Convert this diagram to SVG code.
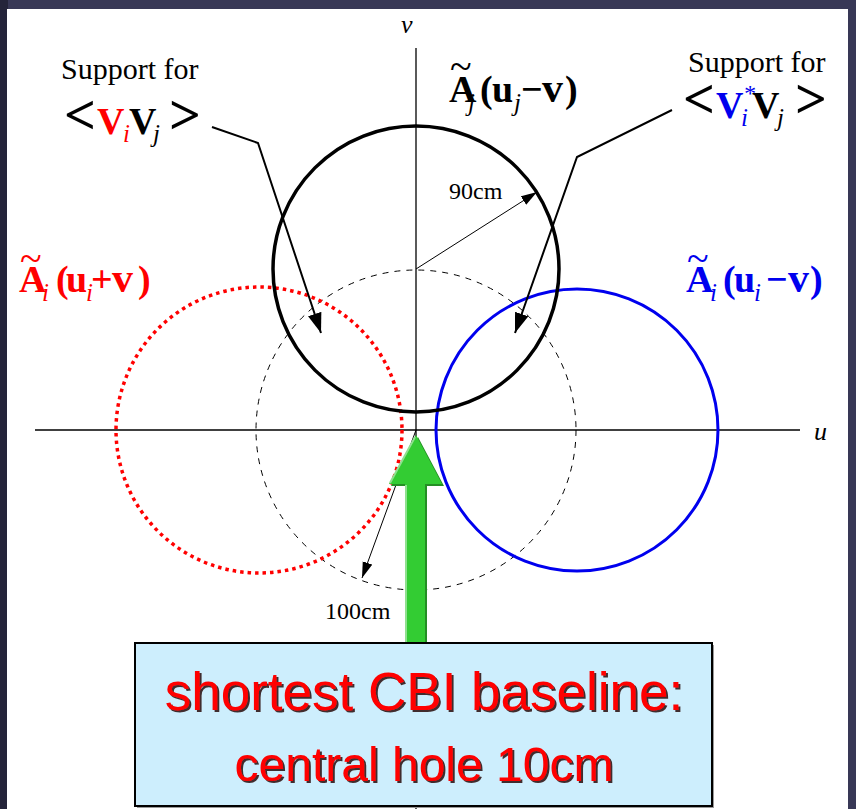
<svg xmlns="http://www.w3.org/2000/svg" width="856" height="809" viewBox="0 0 856 809">
  <style>
    .serif { font-family: "Liberation Serif", "Times New Roman", serif; }
    .b { font-weight: bold; }
    .it { font-style: italic; font-weight: normal; }
    .tilde { font-weight: normal; font-size: 40px; }
    .axis { stroke: #000; stroke-width: 1.3; fill: none; }
    .conn { stroke: #000; stroke-width: 2; fill: none; }
    .thin { stroke: #000; stroke-width: 1; fill: none; }
    .boxtext { fill: #ff0000; font-family: "Liberation Sans", Arial, sans-serif; text-anchor: middle; filter: url(#txtShadow); }
  </style>
  <defs>
    <marker id="bigHead" markerUnits="userSpaceOnUse" markerWidth="22" markerHeight="16" refX="20" refY="7" orient="auto">
      <path d="M0,0 L20,7 L0,14 z" fill="#000"/>
    </marker>
    <marker id="smallHead" markerUnits="userSpaceOnUse" markerWidth="18" markerHeight="12" refX="16" refY="5" orient="auto">
      <path d="M0,0 L16,5 L0,10 z" fill="#000"/>
    </marker>
    <filter id="txtShadow" x="-5%" y="-20%" width="110%" height="140%">
      <feDropShadow dx="2" dy="2" stdDeviation="0.3" flood-color="#301818" flood-opacity="0.9"/>
    </filter>
  </defs>

  <!-- frame -->
  <rect x="0" y="0" width="856" height="809" fill="#383856"/>
  <rect x="0" y="0" width="8" height="809" fill="#24243a"/>
  <rect x="7" y="9" width="841" height="800" fill="#ffffff"/>

  <!-- axes -->
  <g id="axes">
    <line class="axis" x1="35" y1="430" x2="800" y2="430"/>
    <line class="axis" x1="416" y1="48" x2="416" y2="809"/>
    <text class="serif" x="401" y="33" font-size="26" font-style="italic">v</text>
    <text class="serif" x="814" y="440" font-size="26" font-style="italic">u</text>
  </g>

  <!-- circles -->
  <g id="dish-circle">
    <circle cx="416" cy="430" r="160" fill="none" stroke="#000" stroke-width="1" stroke-dasharray="6,6"/>
  </g>
  <g id="circle-Ai-plus">
    <circle cx="259" cy="430" r="143" fill="none" stroke="#ff0000" stroke-width="3.5" stroke-dasharray="3.5,4"/>
  </g>
  <g id="circle-Ai-minus">
    <circle cx="577" cy="430" r="141" fill="none" stroke="#0000ee" stroke-width="3"/>
  </g>
  <g id="circle-Aj">
    <circle cx="416" cy="269" r="143" fill="none" stroke="#000" stroke-width="3.5"/>
  </g>

  <!-- connectors -->
  <g id="connectors">
    <polyline class="conn" points="212,127 258,143 321,333" marker-end="url(#bigHead)"/>
    <polyline class="conn" points="672,110 577,157 515,333" marker-end="url(#bigHead)"/>
    <line class="thin" x1="416" y1="269" x2="537" y2="192" marker-end="url(#smallHead)"/>
    <line class="thin" x1="416" y1="430" x2="362" y2="578" marker-end="url(#smallHead)"/>
  </g>

  <!-- labels -->
  <g id="label-support-left" class="serif">
    <text x="61" y="79" font-size="30">Support for</text>
    <text y="134" class="b" font-size="38">
      <tspan x="64" font-size="56">&lt;</tspan><tspan x="97" fill="#ff0000">V</tspan><tspan x="123" y="142" class="it" font-size="25" fill="#ff0000">i</tspan><tspan x="129" y="134">V</tspan><tspan x="153" y="142" class="it" font-size="25">j</tspan><tspan x="169" y="134" font-size="56">&gt;</tspan>
    </text>
  </g>

  <g id="label-support-right" class="serif">
    <text x="688" y="72" font-size="30">Support for</text>
    <text y="118" class="b" font-size="38">
      <tspan x="683" font-size="56">&lt;</tspan><tspan x="716" fill="#0000ee">V</tspan><tspan x="741" y="126" class="it" font-size="25" fill="#0000ee">i</tspan><tspan x="743" y="101" class="it" font-size="24" fill="#0000ee">*</tspan><tspan x="752" y="118">V</tspan><tspan x="777" y="126" class="it" font-size="25">j</tspan><tspan x="795" y="118" font-size="56">&gt;</tspan>
    </text>
  </g>

  <g id="label-Aj" class="serif">
    <text x="450" y="80" class="tilde">~</text>
    <text y="102" class="b" font-size="38">
      <tspan x="449">A</tspan><tspan x="468" y="111" class="it" font-size="25">j</tspan><tspan x="480" y="102">(</tspan><tspan x="492">u</tspan><tspan x="514" y="111" class="it" font-size="25">j</tspan><tspan x="521" y="102">−</tspan><tspan x="542" font-size="42">v</tspan><tspan x="565">)</tspan>
    </text>
  </g>

  <g id="label-Ai-plus" class="serif" fill="#ff0000">
    <text x="20" y="272" class="tilde">~</text>
    <text y="292" class="b" font-size="38">
      <tspan x="19">A</tspan><tspan x="42" y="301" class="it" font-size="25">i</tspan><tspan x="56" y="292">(</tspan><tspan x="66">u</tspan><tspan x="86" y="301" class="it" font-size="25">i</tspan><tspan x="91" y="292">+</tspan><tspan x="112" font-size="42">v</tspan><tspan x="138">)</tspan>
    </text>
  </g>

  <g id="label-Ai-minus" class="serif" fill="#0000ee">
    <text x="687" y="272" class="tilde">~</text>
    <text y="292" class="b" font-size="38">
      <tspan x="686">A</tspan><tspan x="710" y="301" class="it" font-size="25">i</tspan><tspan x="723" y="292">(</tspan><tspan x="734">u</tspan><tspan x="754" y="301" class="it" font-size="25">i</tspan><tspan x="766" y="292">−</tspan><tspan x="788" font-size="42">v</tspan><tspan x="810">)</tspan>
    </text>
  </g>

  <g id="label-90cm" class="serif">
    <text x="449" y="199" font-size="24">90cm</text>
  </g>
  <g id="label-100cm" class="serif">
    <text x="325" y="619" font-size="24">100cm</text>
  </g>

  <!-- green arrow -->
  <g id="green-arrow">
    <polygon points="418,437 444,486 427,486 427,648 407,648 407,486 391,486" fill="#248f24"/>
    <polygon points="416,435 442,484 425,484 425,646 405,646 405,484 389,484" fill="#33cc33"/>
    <polyline points="390,483 415,437" fill="none" stroke="#8fe08f" stroke-width="2"/>
    <line x1="406" y1="485" x2="406" y2="645" stroke="#8fe08f" stroke-width="2"/>
  </g>

  <!-- callout box -->
  <g id="callout-box">
    <rect x="137" y="645" width="577" height="163" fill="#9a9a9a"/>
    <rect x="135" y="643" width="577" height="163" fill="#cdeefd" stroke="#000" stroke-width="2"/>
    <text class="boxtext" x="424" y="710" font-size="53">shortest CBI baseline:</text>
    <text class="boxtext" x="424" y="781" font-size="48">central hole 10cm</text>
  </g>
</svg>
